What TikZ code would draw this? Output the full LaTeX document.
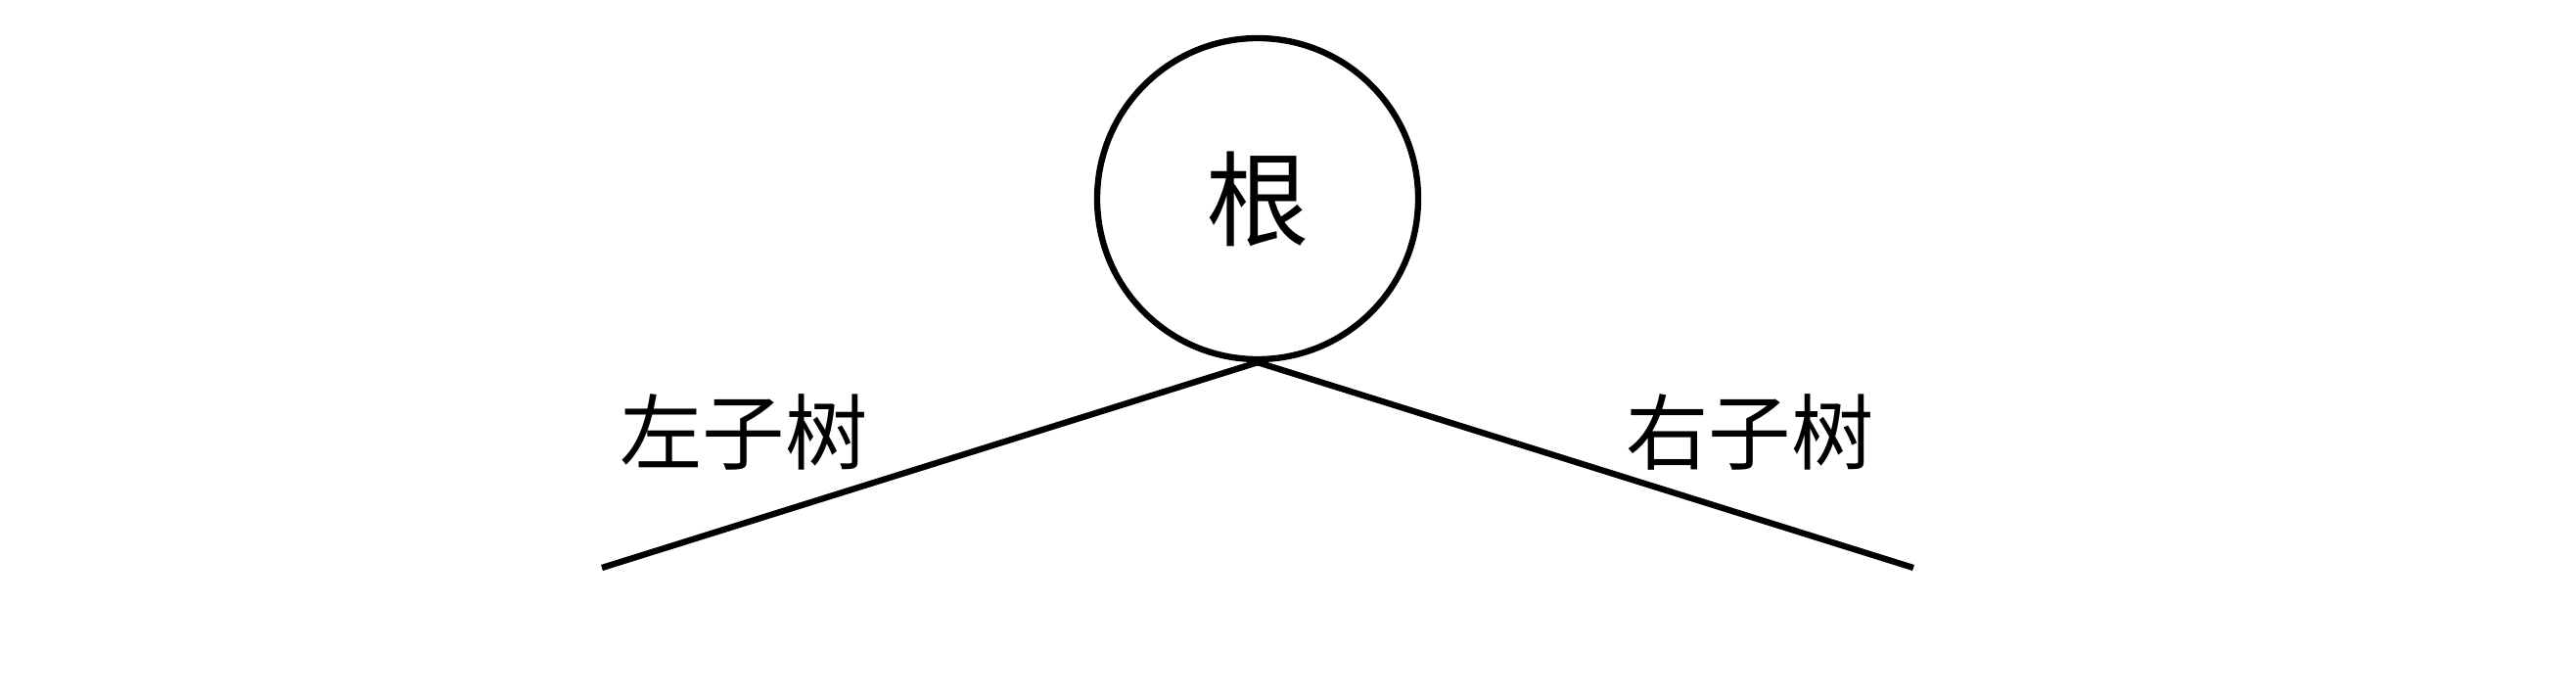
\documentclass[tikz,border=0pt]{standalone}
\usepackage{fontspec}
\newfontfamily\cjk{Noto Sans CJK SC}
\begin{document}
\begin{tikzpicture}
	\useasboundingbox (0, 0) rectangle (26.32, 7.13);
	\node[circle, draw, line width=1.8pt, minimum size=3.28cm, inner sep=0pt, font=\cjk\fontsize{30}{30}\selectfont] (root) at (12.85, 5.10) {根};
	\coordinate (leftend) at (6.15, 1.33);
	\coordinate (rightend) at (19.55, 1.33);
	\draw[line width=1.8pt] (root.south) -- (leftend);
	\draw[line width=1.8pt] (root.south) -- (rightend);
	\node[font=\cjk\fontsize{24}{24}\selectfont] (lefttree) at (7.60, 2.72) {左子树};
	\node[font=\cjk\fontsize{24}{24}\selectfont] (righttree) at (17.88, 2.72) {右子树};
\end{tikzpicture}
\end{document}
